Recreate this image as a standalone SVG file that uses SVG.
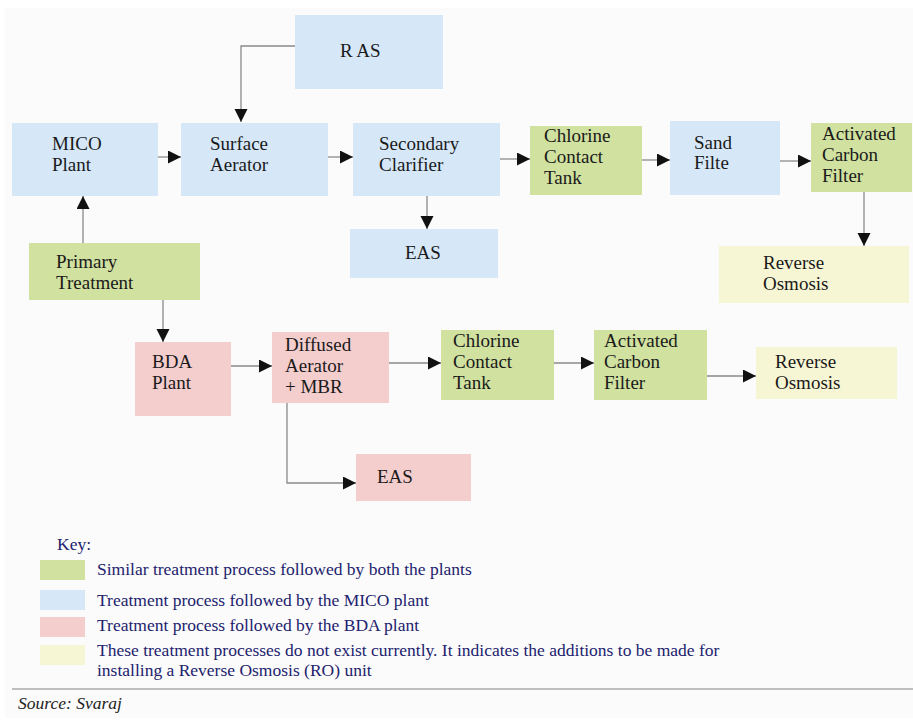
<svg xmlns="http://www.w3.org/2000/svg" width="913" height="725" viewBox="0 0 913 725">
<style>
.t{font-family:"Liberation Serif","Times New Roman",serif;font-size:19px;fill:#1a1a1a}
.k{font-family:"Liberation Serif","Times New Roman",serif;font-size:17.5px;fill:#22226e}
.blue{fill:#d6e8f8}
.green{fill:#d0e1a0}
.pink{fill:#f4cdcd}
.yellow{fill:#f7f6d4}
.c{fill:none;stroke:#8a8a8a;stroke-width:1.3;marker-end:url(#ah)}
</style>
<defs>
<marker id="ah" markerUnits="userSpaceOnUse" markerWidth="14" markerHeight="14" refX="13" refY="6.5" orient="auto">
<path d="M0,0 L13,6.5 L0,13 z" fill="#111"/>
</marker>
</defs>
<rect x="0" y="0" width="913" height="725" fill="#ffffff"/>
<rect x="5" y="8" width="908" height="710" fill="#fbfbfb"/>

<g id="ras"><rect class="blue" x="295" y="15" width="148" height="74"/><text class="t" x="340" y="57">R AS</text></g>
<g id="mico"><rect class="blue" x="12" y="123" width="146" height="73"/><text class="t" x="52" y="150">MICO</text><text class="t" x="52" y="171">Plant</text></g>
<g id="surface"><rect class="blue" x="181" y="123" width="147" height="73"/><text class="t" x="210" y="150">Surface</text><text class="t" x="210" y="171">Aerator</text></g>
<g id="secondary"><rect class="blue" x="353" y="123" width="147" height="73"/><text class="t" x="379" y="150">Secondary</text><text class="t" x="379" y="171">Clarifier</text></g>
<g id="eas1"><rect class="blue" x="350" y="229" width="148" height="49"/><text class="t" x="405" y="259">EAS</text></g>
<g id="chlorine1"><rect class="green" x="530" y="126" width="112" height="69"/><text class="t" x="544" y="142">Chlorine</text><text class="t" x="544" y="163">Contact</text><text class="t" x="544" y="184">Tank</text></g>
<g id="sand"><rect class="blue" x="670" y="121" width="110" height="74"/><text class="t" x="694" y="149">Sand</text><text class="t" x="694" y="169">Filte</text></g>
<g id="carbon1"><rect class="green" x="811" y="123" width="101" height="69"/><text class="t" x="822" y="140">Activated</text><text class="t" x="822" y="161">Carbon</text><text class="t" x="822" y="182">Filter</text></g>
<g id="ro1"><rect class="yellow" x="719" y="246" width="190" height="57"/><text class="t" x="763" y="269">Reverse</text><text class="t" x="763" y="290">Osmosis</text></g>
<g id="primary"><rect class="green" x="29" y="243" width="171" height="57"/><text class="t" x="56" y="268">Primary</text><text class="t" x="56" y="289">Treatment</text></g>
<g id="bda"><rect class="pink" x="135" y="342" width="96" height="74"/><text class="t" x="152" y="368">BDA</text><text class="t" x="152" y="389">Plant</text></g>
<g id="diffused"><rect class="pink" x="272" y="332" width="117" height="71"/><text class="t" x="285" y="351">Diffused</text><text class="t" x="285" y="372">Aerator</text><text class="t" x="285" y="393">+ MBR</text></g>
<g id="chlorine2"><rect class="green" x="441" y="330" width="113" height="70"/><text class="t" x="453" y="347">Chlorine</text><text class="t" x="453" y="368">Contact</text><text class="t" x="453" y="389">Tank</text></g>
<g id="carbon2"><rect class="green" x="594" y="330" width="113" height="70"/><text class="t" x="604" y="347">Activated</text><text class="t" x="604" y="368">Carbon</text><text class="t" x="604" y="389">Filter</text></g>
<g id="ro2"><rect class="yellow" x="756" y="347" width="141" height="52"/><text class="t" x="775" y="368">Reverse</text><text class="t" x="775" y="389">Osmosis</text></g>
<g id="eas2"><rect class="pink" x="356" y="454" width="115" height="47"/><text class="t" x="377" y="483">EAS</text></g>

<g id="connectors">
<path class="c" d="M295,46 H241 V122"/>
<path class="c" d="M158,157 H181"/>
<path class="c" d="M328,157 H353"/>
<path class="c" d="M427,196 V229"/>
<path class="c" d="M83,243 V196"/>
<path class="c" d="M500,159 H530"/>
<path class="c" d="M642,160 H670"/>
<path class="c" d="M780,161 H811"/>
<path class="c" d="M864,192 V246"/>
<path class="c" d="M163,300 V342"/>
<path class="c" d="M231,366 H272"/>
<path class="c" d="M389,363 H441"/>
<path class="c" d="M554,363 H594"/>
<path class="c" d="M707,376 H756"/>
<path class="c" d="M287,403 V483 H356"/>
</g>

<g id="legend">
<text class="k" x="57" y="550">Key:</text>
<rect class="green" x="40" y="560" width="45" height="20"/>
<text class="k" x="97" y="575">Similar treatment process followed by both the plants</text>
<rect class="blue" x="40" y="590" width="45" height="20"/>
<text class="k" x="97" y="606">Treatment process followed by the MICO plant</text>
<rect class="pink" x="40" y="617" width="45" height="20"/>
<text class="k" x="97" y="631">Treatment process followed by the BDA plant</text>
<rect class="yellow" x="40" y="645" width="45" height="20"/>
<text class="k" x="97" y="656">These treatment processes do not exist currently. It indicates the additions to be made for</text>
<text class="k" x="97" y="676">installing a Reverse Osmosis (RO) unit</text>
</g>
<line x1="12" y1="689" x2="913" y2="689" stroke="#aaaaaa" stroke-width="1.5"/>
<text x="18" y="709" font-family="'Liberation Serif','Times New Roman',serif" font-style="italic" font-size="17.5" fill="#222">Source: Svaraj</text>
</svg>
